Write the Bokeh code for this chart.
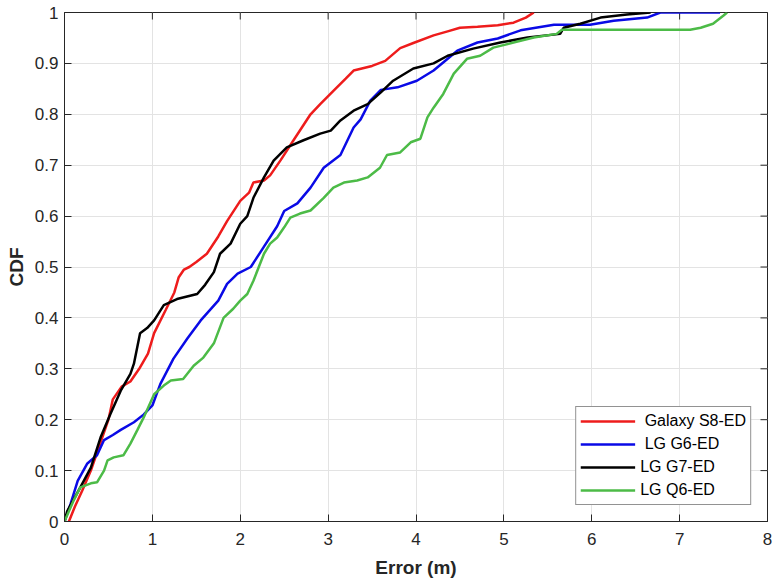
import math
from bokeh.plotting import figure
from bokeh.models import Range1d, FixedTicker, Legend, LegendItem
from bokeh.embed import file_html
from bokeh.resources import INLINE

# ---- data ----
s8_x = [0.05, 0.12, 0.2, 0.3, 0.4, 0.5, 0.55, 0.65, 0.75, 0.85, 0.95, 1.02, 1.15, 1.25, 1.3, 1.36, 1.42,
        1.5, 1.62, 1.75, 1.85, 2.0, 2.1, 2.15, 2.27, 2.34, 2.46, 2.61, 2.8, 2.91, 3.06, 3.2, 3.29, 3.5,
        3.65, 3.82, 3.97, 4.2, 4.36, 4.5, 4.7, 4.93, 5.11, 5.25, 5.34]
s8_y = [0.0, 0.03, 0.06, 0.1, 0.15, 0.2, 0.24, 0.265, 0.275, 0.3, 0.33, 0.37, 0.415, 0.45, 0.48, 0.495, 0.5,
        0.51, 0.526, 0.56, 0.59, 0.63, 0.646, 0.666, 0.67, 0.68, 0.71, 0.75, 0.80, 0.82, 0.846, 0.87, 0.886, 0.895,
        0.905, 0.93, 0.94, 0.955, 0.963, 0.97, 0.972, 0.975, 0.98, 0.99, 1.0]

g6_x = [0.0, 0.07, 0.15, 0.26, 0.37, 0.45, 0.55, 0.64, 0.79, 0.9, 1.0, 1.09, 1.24, 1.4, 1.55, 1.75, 1.85,
        1.97, 2.12, 2.27, 2.42, 2.5, 2.65, 2.8, 2.95, 3.14, 3.29, 3.37, 3.48, 3.6, 3.79, 4.01, 4.2, 4.47,
        4.7, 4.93, 5.19, 5.57, 5.98, 6.25, 6.63, 6.78, 7.46]
g6_y = [0.0, 0.035, 0.08, 0.114, 0.13, 0.16, 0.17, 0.18, 0.195, 0.21, 0.228, 0.27, 0.32, 0.36, 0.395, 0.434,
        0.467, 0.487, 0.50, 0.54, 0.58, 0.61, 0.625, 0.656, 0.695, 0.72, 0.774, 0.79, 0.827, 0.848, 0.853,
        0.866, 0.886, 0.925, 0.941, 0.949, 0.965, 0.976, 0.976, 0.984, 0.99, 1.0, 1.0]

g7_x = [0.0, 0.03, 0.18, 0.3, 0.41, 0.52, 0.64, 0.75, 0.79, 0.86, 0.94, 1.02, 1.13, 1.28, 1.51, 1.6, 1.7,
        1.77, 1.89, 2.0, 2.08, 2.15, 2.27, 2.38, 2.53, 2.72, 2.91, 3.03, 3.14, 3.29, 3.45, 3.6, 3.74, 3.97,
        4.2, 4.36, 4.65, 4.96, 5.27, 5.64, 5.68, 5.87, 6.1, 6.4, 6.67]
g7_y = [0.0, 0.02, 0.067, 0.106, 0.165, 0.21, 0.257, 0.29, 0.31, 0.37, 0.38, 0.395, 0.425, 0.437, 0.447,
        0.465, 0.49, 0.526, 0.546, 0.585, 0.60, 0.636, 0.676, 0.709, 0.735, 0.749, 0.762, 0.768, 0.788, 0.807,
        0.82, 0.843, 0.866, 0.89, 0.90, 0.915, 0.929, 0.941, 0.951, 0.958, 0.97, 0.978, 0.99, 0.996, 1.0]

q6_x = [0.0, 0.1, 0.18, 0.3, 0.37, 0.45, 0.49, 0.56, 0.67, 0.75, 0.83, 0.9, 1.02, 1.13, 1.21, 1.35, 1.47,
        1.58, 1.7, 1.81, 1.92, 2.0, 2.08, 2.15, 2.27, 2.34, 2.42, 2.5, 2.57, 2.68, 2.8, 2.95, 3.06, 3.18,
        3.33, 3.45, 3.59, 3.67, 3.82, 3.94, 4.05, 4.13, 4.2, 4.31, 4.43, 4.58, 4.73, 4.88, 5.11, 5.34, 5.6,
        5.66, 7.12, 7.24, 7.38, 7.5, 7.54]
q6_y = [0.0, 0.04, 0.067, 0.075, 0.077, 0.10, 0.12, 0.126, 0.13, 0.153, 0.18, 0.204, 0.25, 0.267, 0.277,
        0.28, 0.306, 0.322, 0.35, 0.40, 0.418, 0.434, 0.447, 0.473, 0.526, 0.546, 0.558, 0.578, 0.597, 0.605,
        0.611, 0.636, 0.656, 0.666, 0.67, 0.676, 0.695, 0.72, 0.725, 0.745, 0.752, 0.794, 0.813, 0.84, 0.88,
        0.909, 0.915, 0.931, 0.941, 0.951, 0.958, 0.966, 0.966, 0.97, 0.978, 0.994, 1.0]

series_labels = [" Galaxy S8-ED", " LG G6-ED", "LG G7-ED", "LG Q6-ED"]
series_colors = ["#ee1c1c", "#0a0ae6", "#000000", "#4cbb47"]

x_ticks = [0, 1, 2, 3, 4, 5, 6, 7, 8]
x_tick_labels = ["0", "1", "2", "3", "4", "5", "6", "7", "8"]
y_ticks = [0, 0.1, 0.2, 0.3, 0.4, 0.5, 0.6, 0.7, 0.8, 0.9, 1]
y_tick_labels = ["0", "0.1", "0.2", "0.3", "0.4", "0.5", "0.6", "0.7", "0.8", "0.9", "1"]

x_label = "Error (m)"
y_label = "CDF"

X_MIN, X_MAX = 0, 8
Y_MIN, Y_MAX = 0, 1

FONT = "Liberation Sans"
AX = "#262626"

p = figure(width=778, height=580, output_backend="svg", toolbar_location=None,
           x_range=Range1d(X_MIN, X_MAX), y_range=Range1d(Y_MIN, Y_MAX),
           min_border_left=64, min_border_right=11, min_border_top=12, min_border_bottom=59)
p.background_fill_color = "white"
p.border_fill_color = "white"
p.outline_line_color = AX
p.outline_line_width = 1

xa = p.xaxis[0]
ya = p.yaxis[0]
for ax, ticks, labels in ((xa, x_ticks, x_tick_labels), (ya, y_ticks, y_tick_labels)):
    ax.ticker = FixedTicker(ticks=ticks)
    ax.major_label_overrides = dict(zip(ticks, labels))
    ax.minor_tick_line_color = None
    ax.major_tick_in = 7
    ax.major_tick_out = 0
    ax.major_tick_line_color = AX
    ax.axis_line_color = AX
    ax.major_label_text_font = FONT
    ax.major_label_text_color = AX
    ax.major_label_text_font_size = "17px"
    ax.axis_label_text_font = FONT
    ax.axis_label_text_font_style = "bold"
    ax.axis_label_text_font_size = "19px"
    ax.axis_label_text_color = AX
xa.axis_label = x_label
ya.axis_label = y_label
xa.major_label_standoff = 11
ya.major_label_standoff = 6
xa.axis_label_standoff = 9
ya.axis_label_standoff = 5

p.xgrid.ticker = FixedTicker(ticks=x_ticks)
p.ygrid.ticker = FixedTicker(ticks=y_ticks)
for g in (p.xgrid[0], p.ygrid[0]):
    g.grid_line_color = "#e3e3e3"
    g.grid_line_width = 1

# tick marks on the top and right edges of the box (inward, clipped by the frame)
p.scatter(x=x_ticks, y=[Y_MAX] * len(x_ticks), marker="dash", size=14, angle=math.pi / 2,
          line_color=AX, line_width=1)
p.scatter(x=[X_MAX] * len(y_ticks), y=y_ticks, marker="dash", size=14,
          line_color=AX, line_width=1)

xs = [s8_x, g6_x, g7_x, q6_x]
ys = [s8_y, g6_y, g7_y, q6_y]
items = []
for x, y, c, lab in zip(xs, ys, series_colors, series_labels):
    r = p.line(x, y, line_color=c, line_width=2.5)
    items.append(LegendItem(label=lab, renderers=[r]))

leg = Legend(items=items, location="bottom_right")
leg.margin = 16
leg.padding = 4
leg.spacing = 3
leg.glyph_width = 55
leg.glyph_height = 20
leg.label_height = 20
leg.label_standoff = 5
leg.label_text_font = FONT
leg.label_text_font_size = "16px"
leg.label_text_color = "#000000"
leg.border_line_color = AX
leg.border_line_width = 1
leg.background_fill_color = "white"
leg.background_fill_alpha = 1
p.add_layout(leg, "center")

open("out.html", "w").write(file_html(p, INLINE))
